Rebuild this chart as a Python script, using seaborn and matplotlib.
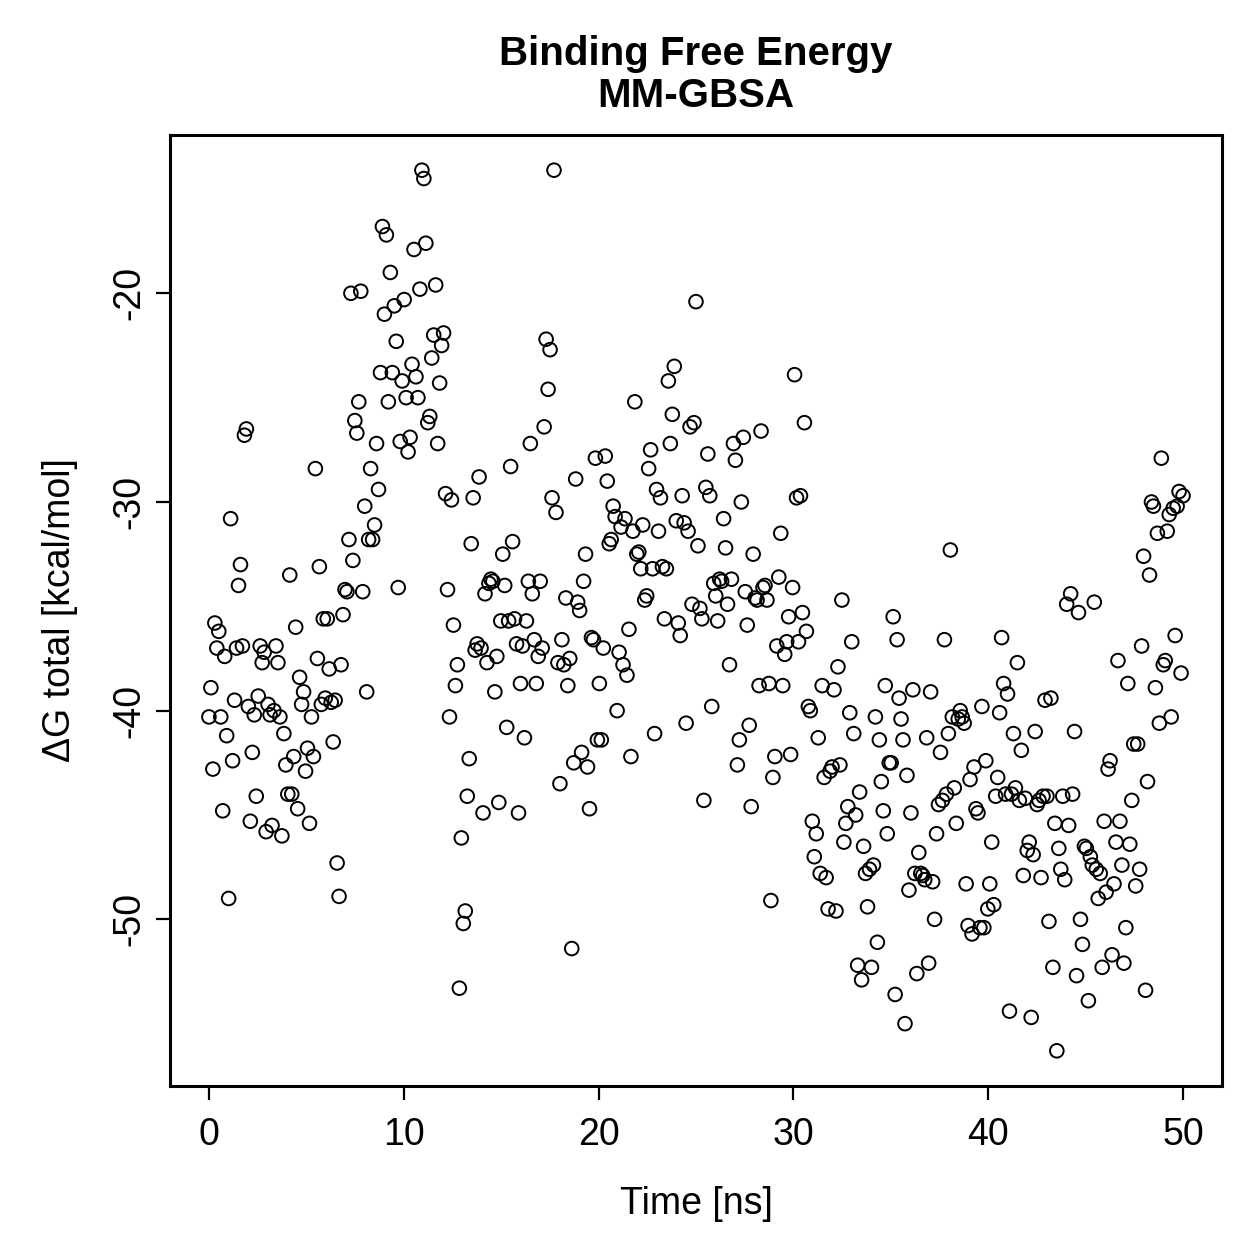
import numpy as np
import pandas as pd
import matplotlib
matplotlib.use("Agg")
import matplotlib.pyplot as plt
import seaborn as sns

# dG total per frame (kcal/mol) in time order
dg = [
    -40.3, -38.9, -42.8, -35.8, -37.0, -36.2, -40.3, -44.8, -37.4, -41.2,
    -49.0, -30.8, -42.4, -39.5, -37.0, -34.0, -33.0, -36.9, -26.8, -26.5,
    -39.8, -45.3, -42.0, -40.2, -44.1, -39.3,
    -36.9, -37.7, -37.2, -45.8, -39.7, -40.2, -45.5, -40.0, -36.9, -37.7,
    -40.3, -46.0, -41.1, -42.6, -44.0, -33.5, -44.0, -42.2, -36.0, -44.7,
    -38.4, -39.7, -39.1, -42.9, -41.8, -45.4, -40.3, -42.2, -28.4, -37.5,
    -33.1, -39.7, -35.6, -39.4,
    -35.6, -38.0, -39.6, -41.5, -39.5, -47.3, -48.9, -37.8, -35.4, -34.2,
    -34.3, -31.8, -20.0, -32.8, -26.1, -26.7, -25.2, -19.9, -34.3, -30.2,
    -39.1, -31.8, -28.4, -31.8, -31.1, -27.2, -29.4, -23.8, -16.8, -21.0,
    -17.2, -25.2,
    -19.0, -23.8, -20.6, -22.3, -34.1, -27.1, -24.2, -20.3, -25.0, -27.6,
    -26.9, -23.4, -17.9, -24.0, -25.0, -19.8, -14.1, -14.5, -17.6, -26.2,
    -25.9, -23.1, -22.0, -19.6, -27.2, -24.3, -22.5, -21.9, -29.6, -34.2,
    -40.3, -29.9, -35.9, -38.8, -37.8, -53.3, -46.1, -50.2, -49.6, -44.1,
    -42.3, -32.0, -29.8, -37.1, -36.8, -28.8, -37.0, -44.9, -34.4, -37.7,
    -33.9, -33.7, -33.8, -39.1, -37.4, -44.4, -35.7, -32.5, -34.0, -40.8,
    -35.7, -28.3, -31.9, -35.6, -36.8, -44.9, -38.7, -36.9, -41.3, -35.7,
    -33.8, -27.2, -34.4, -36.6, -38.7, -37.4, -33.8, -37.0, -26.4, -22.2,
    -24.6, -22.7, -29.8, -14.1, -30.5, -37.7, -43.5, -36.6, -37.8, -34.6,
    -38.8, -37.5, -51.4, -42.5, -28.9, -34.8, -35.2, -42.0, -33.8, -32.5,
    -42.7, -44.7, -36.5, -36.6, -27.9, -41.4, -38.7, -41.4, -37.0, -27.8,
    -29.0, -32.0, -31.8, -30.2, -30.7, -40.0, -37.2, -31.2, -37.8, -30.8,
    -38.3, -36.1, -42.2, -31.4, -25.2, -32.5, -32.4, -33.2, -31.1, -34.7,
    -34.5, -28.4, -27.5, -33.2, -41.1, -29.4, -31.4, -29.8, -33.1, -35.6,
    -33.2, -24.2, -27.2, -25.8, -23.5, -30.9, -35.8, -36.4, -29.7, -31.0,
    -40.6, -31.4, -26.4, -34.9, -26.2, -20.4, -32.1, -35.1, -35.6, -44.3,
    -29.3, -27.7, -29.7, -39.8, -33.9, -34.5, -35.7, -33.7, -33.8, -30.8,
    -32.2, -34.9, -37.8, -33.7, -27.2, -28.0, -42.6, -41.4, -30.0, -26.9,
    -34.3, -35.9, -40.7, -44.6, -32.5, -34.6, -34.7, -38.8, -26.6, -34.1,
    -34.0, -34.7, -38.7, -49.1, -43.2, -42.2, -36.9, -33.6, -31.5, -38.8,
    -37.3, -36.7, -35.5, -42.1, -34.1, -23.9, -29.8, -36.7, -29.7, -35.3,
    -26.2, -36.2, -39.8, -40.0, -45.3, -47.0, -45.9, -41.3, -47.8, -38.8,
    -43.2, -48.0, -49.5, -42.9, -42.7, -39.0, -49.6, -37.9, -42.6, -34.7,
    -46.3, -45.4, -44.6, -40.1, -36.7, -41.1, -45.0, -52.2, -43.9, -52.9,
    -46.5, -47.8, -49.4, -47.6, -52.3, -47.4, -40.3, -51.1, -41.4, -43.4,
    -44.8, -38.8, -45.9, -42.5, -42.5, -35.5, -53.6, -36.6, -39.4, -40.4,
    -41.4, -55.0, -43.1, -48.6, -44.9, -39.0, -47.8, -52.6, -46.8, -47.8,
    -47.9, -48.1, -41.3, -52.1, -39.1, -48.2, -50.0, -45.9, -44.5, -42.0,
    -44.3, -36.6, -44.0, -41.1, -32.3, -40.3, -43.7, -45.4, -40.4, -40.0,
    -40.3, -40.6, -48.3, -50.3, -43.3, -50.7, -42.7, -44.7, -44.9, -50.4,
    -39.8, -50.4, -42.4, -49.5, -48.3, -46.3, -49.3, -44.1, -43.2, -40.1,
    -36.5, -38.7, -44.0, -39.2, -54.4, -44.0, -41.1, -43.7, -37.7, -44.3,
    -41.9, -47.9, -44.2, -46.7, -46.3, -54.7, -46.9, -41.0, -44.5, -44.3,
    -48.0, -44.1, -39.5, -44.1, -50.1, -39.4, -52.3, -45.4, -56.3, -46.6,
    -47.6, -44.1, -48.1, -34.9, -45.5, -34.4, -44.0, -41.0, -52.7, -35.3,
    -50.0, -51.2, -46.5, -46.6, -53.9, -47.0, -47.4, -34.8, -47.6, -49.0,
    -47.8, -52.3, -45.3, -48.7, -42.8, -42.4, -51.7, -48.3, -46.3, -37.6,
    -45.3, -47.4, -52.1, -50.4, -38.7, -46.4, -44.3, -41.6, -48.4, -41.6,
    -47.6, -36.9, -32.6, -53.4, -43.4, -33.5, -30.0, -30.2, -38.9, -31.5,
    -40.6, -27.9, -37.8, -37.6, -31.4, -30.6, -40.3, -30.3, -36.4, -30.2,
    -29.5, -38.2, -29.7,
]
# frames are saved at a fixed interval over the 50 ns run
time_ns = np.linspace(0, 50, len(dg))

df = pd.DataFrame({"time": time_ns, "dG": dg})

sns.set_style("ticks")
plt.rcParams["font.family"] = ["Liberation Sans", "DejaVu Sans"]
plt.rcParams["axes.unicode_minus"] = False
plt.rcParams["text.color"] = "black"
plt.rcParams["axes.labelcolor"] = "black"
plt.rcParams["xtick.color"] = "black"
plt.rcParams["ytick.color"] = "black"

fig = plt.figure(figsize=(6.295, 6.295), dpi=200)
ax = fig.add_axes([0.135, 0.1374, 0.8356, 0.7554])

sns.scatterplot(data=df, x="time", y="dG", ax=ax, marker="o",
                facecolor="none", edgecolor="black", linewidth=0.7, s=24,
                legend=False)

# R-style 4% axis padding
xr = df["time"].max() - df["time"].min()
yr = df["dG"].max() - df["dG"].min()
ax.set_xlim(df["time"].min() - 0.04 * xr, df["time"].max() + 0.04 * xr)
ax.set_ylim(df["dG"].min() - 0.04 * yr, df["dG"].max() + 0.04 * yr)

ax.set_xticks([0, 10, 20, 30, 40, 50])
ax.set_yticks([-50, -40, -30, -20])
ax.tick_params(axis="both", labelsize=13.5, length=5, width=0.8,
               color="black", labelcolor="black")
ax.tick_params(axis="x", pad=6)
ax.tick_params(axis="y", pad=3)
for lab in ax.get_yticklabels():
    lab.set_rotation(90)
    lab.set_va("center")

for sp in ax.spines.values():
    sp.set_linewidth(1.1)
    sp.set_color("black")

ax.set_xlabel("Time [ns]", fontsize=13.5, labelpad=12, color="black")
ax.set_ylabel("\u0394G total [kcal/mol]", fontsize=13.5, labelpad=12,
              color="black")
ax.set_title("Binding Free Energy\nMM-GBSA", fontsize=14.5,
             fontweight="bold", pad=10, linespacing=1.15, color="black")

fig.savefig("out.png", dpi=200)
